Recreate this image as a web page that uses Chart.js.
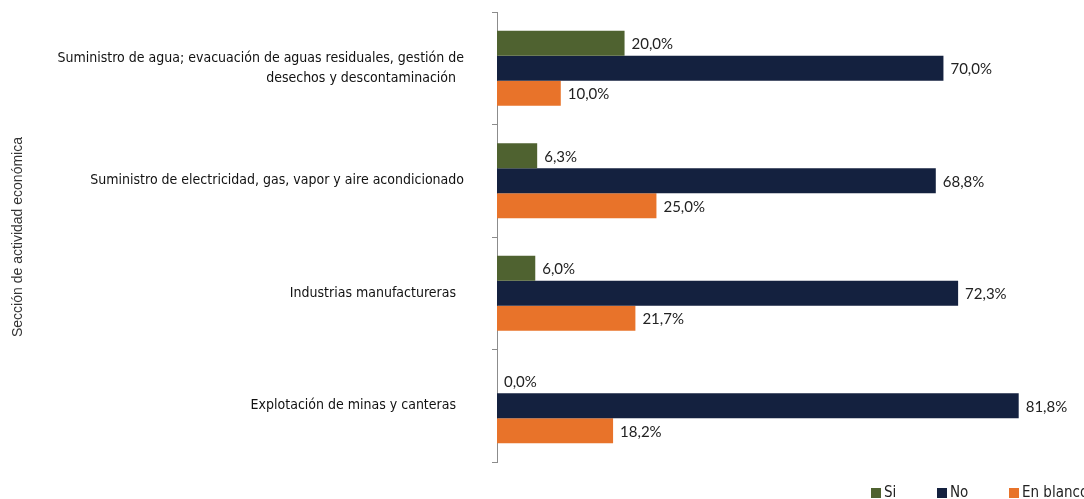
<!DOCTYPE html>
<html>
<head>
<meta charset="utf-8">
<script src="https://cdn.jsdelivr.net/npm/chart.js@4/dist/chart.umd.min.js"></script>
<style>
  html, body { margin: 0; padding: 0; background: #fff; }
  #wrap { width: 1084px; height: 499px; position: relative; }
</style>
</head>
<body>
<div id="wrap"><canvas id="myChart"></canvas></div>
<script>
// categories, top to bottom
const categories = [
  ["Suministro de agua; evacuación de aguas residuales, gestión de", "desechos y descontaminación  "],
  "Suministro de electricidad, gas, vapor y aire acondicionado",
  "Industrias manufactureras  ",
  "Explotación de minas y canteras  "
];
const seriesNames = ["Si", "No", "En blanco"];
const siValues = [20.0, 6.3, 6.0, 0.0];
const noValues = [70.0, 68.8, 72.3, 81.8];
const blancoValues = [10.0, 25.0, 21.7, 18.2];
const colors = ["#4F6230", "#14213F", "#E8732A"];

const narrowFont = "'Liberation Sans Narrow', 'DejaVu Sans Condensed', sans-serif";

// value labels at the end of each bar
const barLabels = {
  id: "barLabels",
  afterDatasetsDraw(chart) {
    const ctx = chart.ctx;
    ctx.save();
    ctx.font = "15px Lato";
    ctx.fillStyle = "#222";
    ctx.textAlign = "left";
    ctx.textBaseline = "middle";
    chart.data.datasets.forEach((ds, i) => {
      chart.getDatasetMeta(i).data.forEach((bar, j) => {
        const txt = ds.data[j].toFixed(1).replace(".", ",") + "%";
        ctx.fillText(txt, bar.x + 7, bar.y + 1);
      });
    });
    ctx.restore();
  }
};

// legend drawn in the bottom right corner
const bottomLegend = {
  id: "bottomLegend",
  afterDraw(chart) {
    const ctx = chart.ctx;
    const xs = [871, 937, 1009];
    ctx.save();
    ctx.font = "15px " + narrowFont;
    ctx.textBaseline = "middle";
    chart.data.datasets.forEach((ds, i) => {
      ctx.fillStyle = ds.backgroundColor;
      ctx.fillRect(xs[i], 488, 10, 10);
      ctx.fillStyle = "#222";
      ctx.fillText(ds.label, xs[i] + 13, 493);
    });
    ctx.restore();
  }
};

const ctx = document.getElementById("myChart");
const myChart = new Chart(ctx, {
  type: "bar",
  data: {
    labels: categories,
    datasets: [
      { label: seriesNames[0], data: siValues, backgroundColor: colors[0] },
      { label: seriesNames[1], data: noValues, backgroundColor: colors[1] },
      { label: seriesNames[2], data: blancoValues, backgroundColor: colors[2] }
    ]
  },
  options: {
    indexAxis: "y",
    responsive: true,
    maintainAspectRatio: false,
    animation: false,
    datasets: { bar: { categoryPercentage: 0.667, barPercentage: 1.0 } },
    layout: { padding: { top: 12, bottom: 37, right: 13, left: 0 } },
    plugins: {
      legend: { display: false },
      tooltip: { enabled: false }
    },
    scales: {
      x: { display: false, min: 0, max: 90 },
      y: {
        afterFit(scale) {
          scale.width = 497;
          scale.paddingTop = 0;
          scale.paddingBottom = 0;
        },
        border: { display: true, color: "#8c8c8c", width: 1 },
        grid: { drawOnChartArea: false, drawTicks: true, tickLength: 5, color: "#8c8c8c" },
        ticks: {
          color: "#111",
          padding: 28,
          font: { family: narrowFont, size: 14, lineHeight: 1.4 }
        },
        title: {
          display: true,
          text: "Sección de actividad económica",
          color: "#333",
          font: { family: "'Liberation Sans', Arial", size: 14 },
          padding: { top: 10, bottom: 4 }
        }
      }
    }
  },
  plugins: [barLabels, bottomLegend]
});
</script>
</body>
</html>
